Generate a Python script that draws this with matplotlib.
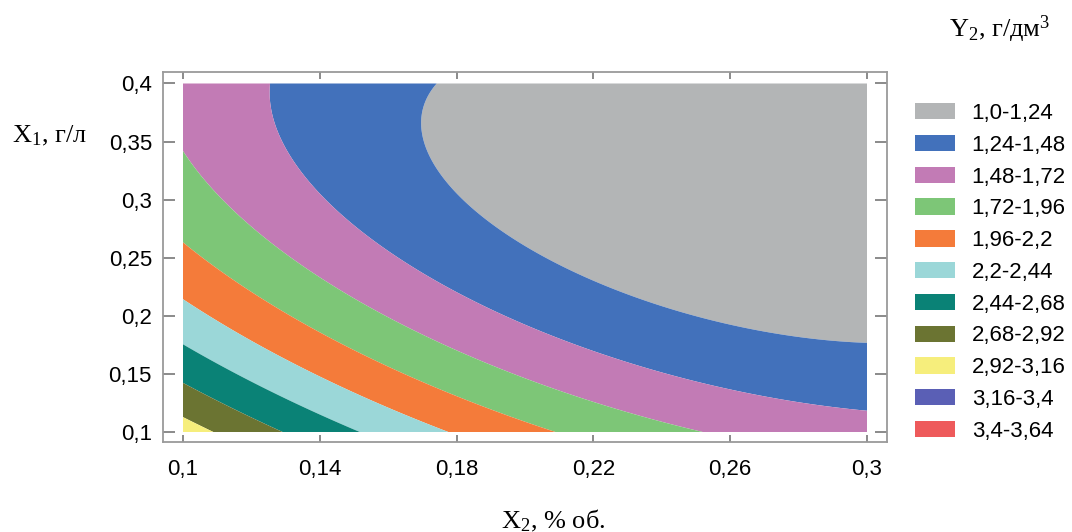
import numpy as np
import matplotlib
matplotlib.use("Agg")
import matplotlib.pyplot as plt
from matplotlib.patches import Patch

plt.rcParams["font.family"] = ["Liberation Sans", "DejaVu Sans"]
plt.rcParams["mathtext.fontset"] = "custom"
plt.rcParams["mathtext.rm"] = "Liberation Serif"
plt.rcParams["mathtext.it"] = "Liberation Serif:italic"
plt.rcParams["mathtext.bf"] = "Liberation Serif:bold"

# Regression equation Y2 = b0 + b1*X2 + b2*X1 + b12*X1*X2 + b11*X2^2 + b22*X1^2
b0 = 5.817
b1 = -20.262
b2 = -13.581
b12 = 17.27
b11 = 28.13
b22 = 14.55

# Factor ranges
x2_range = [0.1, 0.3]   # X2, % об.
x1_range = [0.1, 0.4]   # X1, г/л

# Response intervals
levels = [1.0, 1.24, 1.48, 1.72, 1.96, 2.2, 2.44, 2.68, 2.92, 3.16, 3.4, 3.64]
level_labels = ["1,0-1,24", "1,24-1,48", "1,48-1,72", "1,72-1,96", "1,96-2,2",
                "2,2-2,44", "2,44-2,68", "2,68-2,92", "2,92-3,16", "3,16-3,4",
                "3,4-3,64"]
level_colors = ["#b3b5b6", "#4271bb", "#c27bb5", "#7dc677", "#f47b3a",
                "#9bd7d8", "#0a8276", "#6b7432", "#f6ee7c", "#5a5fb5",
                "#ee5a5b"]

x_ticks = [0.1, 0.14, 0.18, 0.22, 0.26, 0.3]
x_tick_labels = ["0,1", "0,14", "0,18", "0,22", "0,26", "0,3"]
y_ticks = [0.1, 0.15, 0.2, 0.25, 0.3, 0.35, 0.4]
y_tick_labels = ["0,1", "0,15", "0,2", "0,25", "0,3", "0,35", "0,4"]

W, H = 1072, 532
fig = plt.figure(figsize=(W / 100, H / 100), dpi=100)
ax = fig.add_axes([163 / W, 1 - 442 / H, (887 - 163) / W, (442 - 72) / H])

X2, X1 = np.meshgrid(np.linspace(*x2_range, 400), np.linspace(*x1_range, 400))
Y2 = b0 + b1 * X2 + b2 * X1 + b12 * X1 * X2 + b11 * X2 ** 2 + b22 * X1 ** 2
ax.contourf(X2, X1, Y2, levels=levels, colors=level_colors, antialiased=True)

px_x = 3420.0
px_y = 1161.7
ax.set_xlim(0.1 - 20 / px_x, 0.3 + 20 / px_x)
ax.set_ylim(0.1 - 10 / px_y, 0.4 + 11.5 / px_y)

frame_col = "#9a9a9a"
for sp in ax.spines.values():
    sp.set_color(frame_col)
    sp.set_linewidth(1.3)

ax.set_xticks(x_ticks, x_tick_labels)
ax.set_yticks(y_ticks, y_tick_labels)
ax.tick_params(axis="x", direction="in", length=5, width=1.2, color="#777777",
               top=True, bottom=True, labelsize=16, pad=12)
ax.tick_params(axis="y", direction="in", length=8.5, width=1.2, color="#777777",
               left=True, right=True, labelsize=16, pad=8)

serif_size = 19
ax.set_ylabel(r"$\mathrm{X}_{1}$, г/л", rotation=0, fontsize=serif_size,
              fontfamily="Liberation Serif", ha="left", va="baseline")
ax.yaxis.set_label_coords((12 - 163) / 724, (442 - 142) / 370)
ax.set_xlabel(r"$\mathrm{X}_{2}$, % об.", fontsize=serif_size,
              fontfamily="Liberation Serif", ha="center", va="baseline")
ax.xaxis.set_label_coords((553 - 163) / 724, (442 - 528) / 370)

fig.text(949 / W, 1 - 37 / H, r"$\mathrm{Y}_{2}$, г/дм$^{3}$", fontsize=serif_size,
         fontfamily="Liberation Serif", ha="left", va="baseline")

handles = [Patch(facecolor=c, edgecolor="none") for c in level_colors]
fig.legend(handles, level_labels, loc="upper left",
           bbox_to_anchor=(915 / W, 1 - 103 / H), frameon=False,
           fontsize=16, handlelength=1.8, handleheight=0.75,
           handletextpad=0.75, labelspacing=0.485, borderpad=0,
           borderaxespad=0)

fig.savefig("out.png", dpi=100)
